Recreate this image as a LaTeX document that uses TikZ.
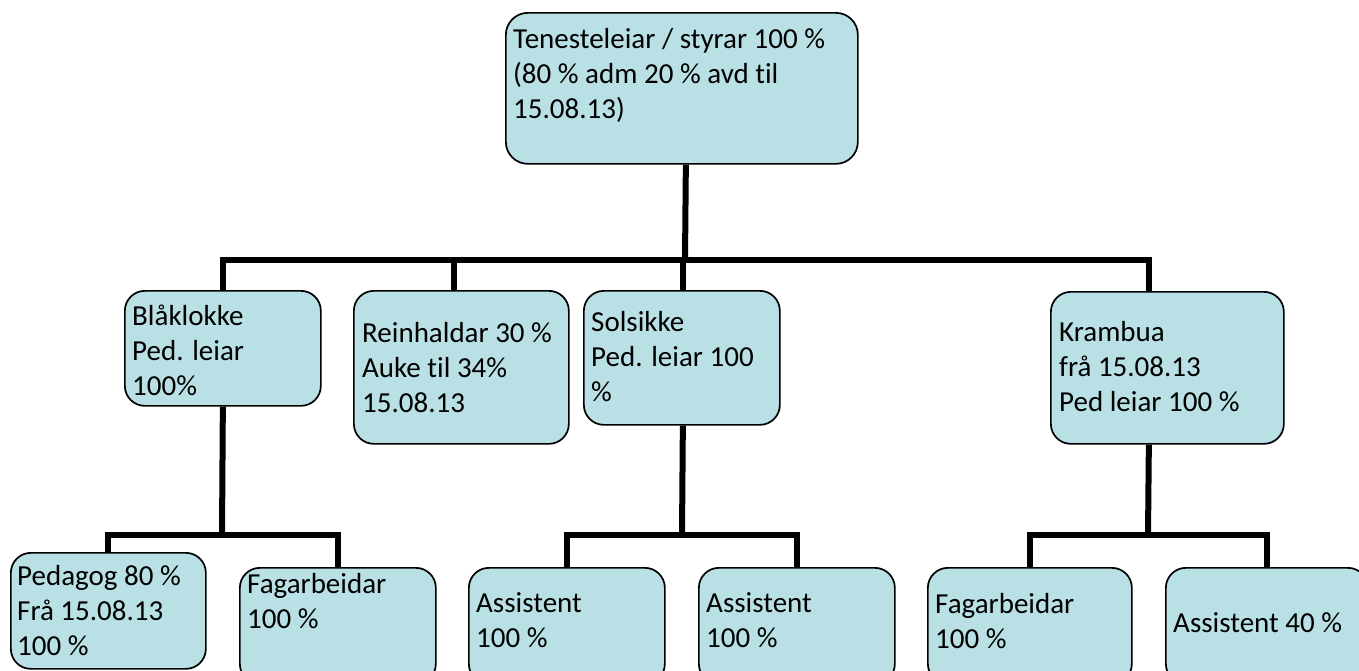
\documentclass[tikz,border=0pt]{standalone}
\usepackage{fontspec}
\setmainfont{Carlito}[Ligatures=NoCommon]
\definecolor{boxfill}{RGB}{185,224,228}
\newcommand{\boxlines}[1]{\begin{tabular}[t]{@{}l@{}}#1\end{tabular}}
\tikzset{
  orgbox/.style={draw=black, line width=1.7pt, fill=boxfill, rounded corners=20pt, inner sep=0pt, anchor=north west},
  orgtext/.style={anchor=base west, inner sep=0pt, font=\fontsize{29}{35}\selectfont},
  conn/.style={line width=6pt, line join=miter, draw=black},
}
\begin{document}
\begin{tikzpicture}[x=1pt,y=-1pt]
\useasboundingbox (0,0) rectangle (1359,670);
\clip (0,0) rectangle (1359,670);
% boxes
\node[orgbox, rounded corners=22pt, minimum width=352pt, minimum height=151pt] (top) at (505,12) {};
\node[orgbox, minimum width=196pt, minimum height=115pt] (b1) at (124,290) {};
\node[orgbox, minimum width=215pt, minimum height=153pt] (b2) at (353,290) {};
\node[orgbox, minimum width=196pt, minimum height=134pt] (b3) at (583,290) {};
\node[orgbox, minimum width=233pt, minimum height=152pt] (b4) at (1050,291) {};
\node[orgbox, minimum width=195pt, minimum height=116pt] (c1) at (10,552) {};
\node[orgbox, minimum width=196pt, minimum height=116pt] (c2) at (239,567) {};
\node[orgbox, minimum width=196pt, minimum height=116pt] (c3) at (468,567) {};
\node[orgbox, minimum width=196pt, minimum height=116pt] (c4) at (698,567) {};
\node[orgbox, minimum width=204pt, minimum height=116pt] (c5) at (927,567) {};
\node[orgbox, minimum width=202pt, minimum height=116pt] (c6) at (1165,567) {};
% texts
\node[orgtext] (ttop) at (513,48) {\boxlines{Tenesteleiar / styrar 100 \%\\(80 \% adm 20 \% avd til\\15.08.13)}};
\node[orgtext] (tb1) at (132,325) {\boxlines{Blåklokke\\Ped. leiar\\100\%}};
\node[orgtext] (tb2) at (362,342) {\boxlines{Reinhaldar 30 \%\\Auke til 34\%\\15.08.13}};
\node[orgtext] (tb3) at (591,331) {\boxlines{Solsikke\\Ped. leiar 100\\\%}};
\node[orgtext] (tb4) at (1059,341) {\boxlines{Krambua\\frå 15.08.13\\Ped leiar 100 \%}};
\node[orgtext] (tc1) at (17,585) {\boxlines{Pedagog 80 \%\\Frå 15.08.13\\100 \%}};
\node[orgtext] (tc2) at (247,593) {\boxlines{Fagarbeidar\\100 \%}};
\node[orgtext] (tc3) at (476,612) {\boxlines{Assistent\\100 \%}};
\node[orgtext] (tc4) at (706,612) {\boxlines{Assistent\\100 \%}};
\node[orgtext] (tc5) at (935,613) {\boxlines{Fagarbeidar\\100 \%}};
\node[orgtext] (tc6) at (1173,632) {Assistent 40 \%};
% connectors level 1
\coordinate (bus) at (685,260);
\draw[conn] ([xshift=4pt]top.south) -- (bus);
\draw[conn] (b1.north) |- (bus);
\draw[conn] ([xshift=-7.5pt]b2.north) |- (bus);
\draw[conn] ([xshift=1pt]b3.north) |- (bus);
\draw[conn] ([xshift=-18.5pt]b4.north) |- (bus);
% connectors level 2
\coordinate (lbus) at (222,535);
\draw[conn] (b1.south) -- (lbus);
\draw[conn] (c1.north) |- (lbus);
\draw[conn] (c2.north) |- (lbus);
\coordinate (mbus) at (682,535);
\draw[conn] ([xshift=1pt]b3.south) -- (mbus);
\draw[conn] (c3.north) |- (mbus);
\draw[conn] (c4.north) |- (mbus);
\coordinate (rbus) at (1148,535);
\draw[conn] ([xshift=-18.5pt]b4.south) -- (rbus);
\draw[conn] (c5.north) |- (rbus);
\draw[conn] (c6.north) |- (rbus);
\end{tikzpicture}
\end{document}
